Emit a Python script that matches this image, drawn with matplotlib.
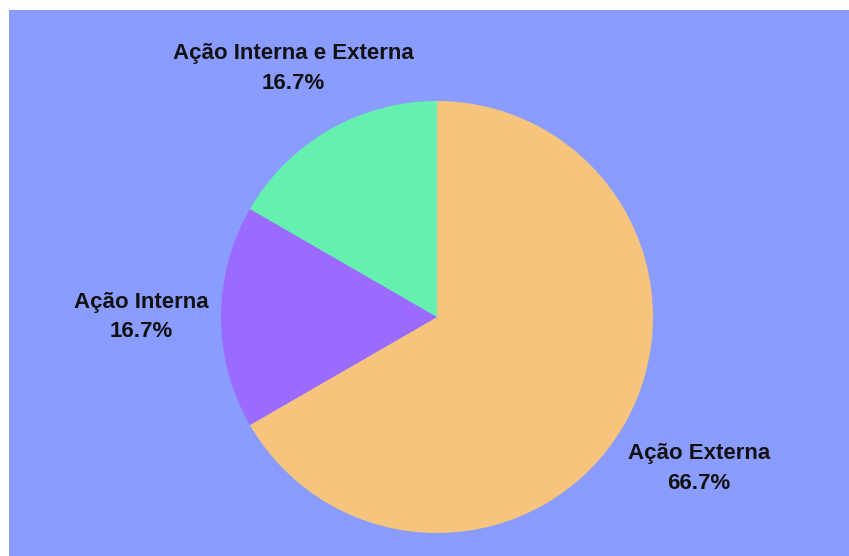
import numpy as np
import matplotlib.pyplot as plt
from matplotlib.patches import Rectangle

labels = ['Ação Externa', 'Ação Interna', 'Ação Interna e Externa']
values = [4, 1, 1]
colors = ['#f6c47c', '#9b6bff', '#66f0b0']
label_dist = [1.40, 1.37, 1.33]

W, H = 849, 556
fig = plt.figure(figsize=(W / 100, H / 100), dpi=100)
fig.patch.set_facecolor('white')
fig.add_artist(Rectangle((9 / W, 0), 1 - 9 / W, (H - 10) / H, transform=fig.transFigure,
                         facecolor='#8a9cff', edgecolor='none', zorder=-10))

cx, cy, r = 437, H - 317, 216
ax = fig.add_axes([(cx - r) / W, (cy - r) / H, 2 * r / W, 2 * r / H])
ax.set_facecolor('none')

wedges, _ = ax.pie(values, colors=colors, startangle=90, counterclock=False,
                   wedgeprops=dict(linewidth=0))
ax.set_xlim(-1, 1)
ax.set_ylim(-1, 1)
ax.set_aspect('equal')
ax.axis('off')

total = sum(values)
for w, lab, v, d in zip(wedges, labels, values, label_dist):
    ang = np.deg2rad((w.theta1 + w.theta2) / 2)
    ax.text(d * np.cos(ang), d * np.sin(ang), f'{lab}\n{100 * v / total:.1f}%',
            ha='center', va='center', fontsize=16, fontweight='bold',
            family='Liberation Sans', color='#111111', linespacing=1.55, clip_on=False)

fig.savefig('out.png', dpi=100)
